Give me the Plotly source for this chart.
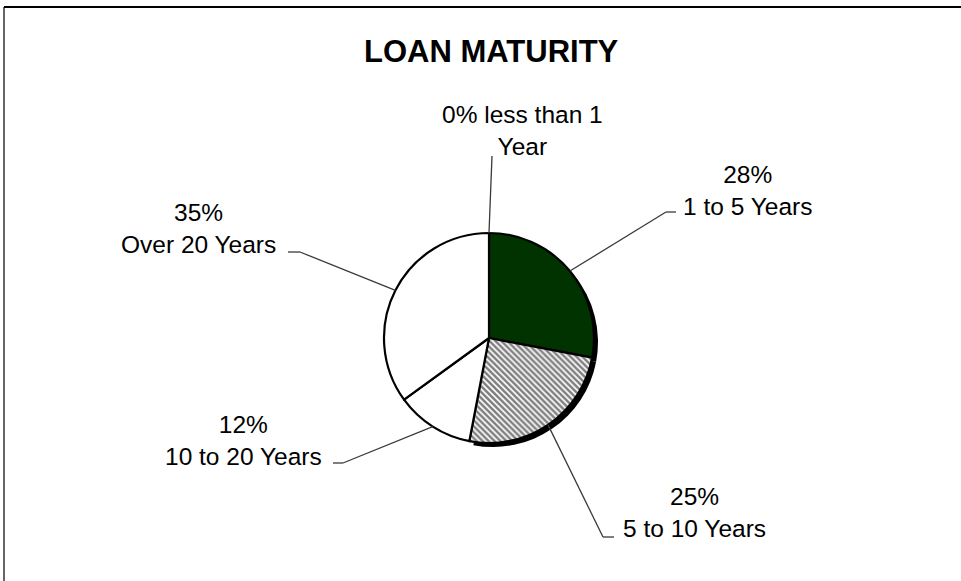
import math
import plotly.graph_objects as go

# ---- data ----
categories = ["less than 1 Year", "1 to 5 Years", "5 to 10 Years", "10 to 20 Years", "Over 20 Years"]
values = [0, 28, 25, 12, 35]
pct_labels = ["0% less than 1<br>Year", "28%<br>1 to 5 Years", "25%<br>5 to 10 Years",
              "12%<br>10 to 20 Years", "35%<br>Over 20 Years"]

W, H = 961, 581
CX, CY, R = 489, 338, 105  # pie center / radius in px

def px(x):
    return x / W

def py(y):
    return 1 - y / H

fills = ["white", "#013300", "white", "white", "white"]
patterns = ["", "", "\\", "", ""]

fig = go.Figure()

# shadow pie (offset)
SX, SY = 4, 4
fig.add_trace(go.Pie(
    values=values, labels=categories, sort=False, direction="clockwise", rotation=0,
    marker=dict(colors=["rgba(0,0,0,0)", "black", "black", "rgba(0,0,0,0)", "rgba(0,0,0,0)"],
                line=dict(width=0)),
    textinfo="none", hoverinfo="skip", showlegend=False,
    domain=dict(x=[px(CX - R + SX), px(CX + R + SX)], y=[py(CY + R + SY), py(CY - R + SY)]),
))

fig.add_trace(go.Pie(
    values=values, labels=categories, sort=False, direction="clockwise", rotation=0,
    marker=dict(colors=fills, line=dict(color="black", width=2.2),
                pattern=dict(shape=patterns, fgcolor="black", bgcolor="white",
                             size=4.2, solidity=0.6, fillmode="overlay")),
    textinfo="none", hoverinfo="skip", showlegend=False,
    domain=dict(x=[px(CX - R), px(CX + R)], y=[py(CY + R), py(CY - R)]),
))

# label placement (layout)
label_pos = [(522, 130), (747, 190), (694, 512), (243, 440), (198, 228)]
elbows = [None, ((666, 212), (676, 212)), ((603, 537), (614, 537)),
          ((343, 463), (333, 463)), ((300, 252), (288, 252))]
tops = [(492, 156), None, None, None, None]

annotations = []
shapes = []
total = sum(values)
cum = 0
for i, v in enumerate(values):
    mid = (cum + v / 2) / total * 2 * math.pi
    cum += v
    ex = CX + R * math.sin(mid)
    ey = CY - R * math.cos(mid)
    lx, ly = label_pos[i]
    annotations.append(dict(x=px(lx), y=py(ly), xref="paper", yref="paper",
                            text=pct_labels[i], showarrow=False, align="center",
                            xanchor="center", yanchor="middle",
                            font=dict(family="Liberation Sans, Arial", size=24.5, color="black")))
    if elbows[i]:
        (ax, ay), (bx, by) = elbows[i]
        pts = [(ex, ey), (ax, ay), (bx, by)]
    else:
        pts = [(ex, ey), tops[i]]
    for (x0, y0), (x1, y1) in zip(pts[:-1], pts[1:]):
        shapes.append(dict(type="line", xref="paper", yref="paper",
                           x0=px(x0), y0=py(y0), x1=px(x1), y1=py(y1),
                           line=dict(color="#3a3a3a", width=1.3)))

# frame lines
shapes.append(dict(type="line", xref="paper", yref="paper", x0=px(4), y0=py(7), x1=1, y1=py(7),
                   line=dict(color="black", width=2)))
shapes.append(dict(type="line", xref="paper", yref="paper", x0=px(4), y0=py(7), x1=px(4), y1=0,
                   line=dict(color="black", width=1.2)))

annotations.append(dict(x=px(491), y=py(52), xref="paper", yref="paper", text="<b>LOAN MATURITY</b>",
                        showarrow=False, xanchor="center", yanchor="middle",
                        font=dict(family="Liberation Sans, Arial", size=31, color="black")))

fig.update_layout(
    width=W, height=H, margin=dict(l=0, r=0, t=0, b=0),
    paper_bgcolor="white", plot_bgcolor="white",
    annotations=annotations, shapes=shapes, showlegend=False,
)

fig.write_html("out.html", config={"displayModeBar": False},
               post_script="document.body.style.margin='0';document.body.style.overflow='hidden';")
